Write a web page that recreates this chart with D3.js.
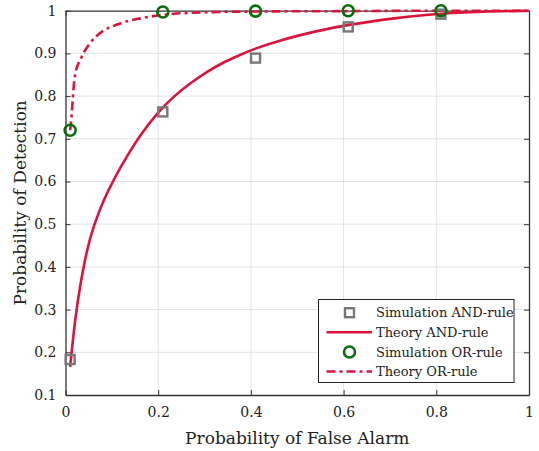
<!DOCTYPE html>
<html><head><meta charset="utf-8">
<script src="https://cdn.jsdelivr.net/npm/d3@7"></script>
<style>
body{margin:0;background:#fff;}
text{font-family:"DejaVu Serif","Liberation Serif",serif;}
</style></head>
<body><svg id="c" width="539" height="451"></svg>
<script>
const xTicks = [0, 0.2, 0.4, 0.6, 0.8, 1];
const yTicks = [0.1, 0.2, 0.3, 0.4, 0.5, 0.6, 0.7, 0.8, 0.9, 1];
const simPfa = [0.01, 0.21, 0.41, 0.61, 0.81];
const simAND = [0.183, 0.763, 0.889, 0.962, 0.992];
const simOR = [0.72, 0.997, 0.999, 1.0, 1.0];
const theoryANDPfa = [0.01, 0.02, 0.031, 0.046, 0.06, 0.082, 0.107, 0.132, 0.161, 0.2, 0.233, 0.269, 0.305, 0.34, 0.376, 0.405, 0.463, 0.54, 0.607, 0.72, 0.80, 0.90, 1.0];
const theoryANDPd  = [0.166, 0.272, 0.354, 0.44, 0.494, 0.557, 0.611, 0.658, 0.709, 0.763, 0.799, 0.830, 0.857, 0.879, 0.896, 0.910, 0.931, 0.952, 0.967, 0.984, 0.993, 0.998, 1.0];
const theoryORPfa = [0.01, 0.012, 0.02, 0.035, 0.053, 0.074, 0.11, 0.161, 0.209, 0.268, 0.4, 0.6, 0.8, 1.0];
const theoryORPd  = [0.72, 0.74, 0.846, 0.892, 0.924, 0.947, 0.967, 0.982, 0.990, 0.995, 0.998, 0.999, 1.0, 1.0];
const legendLabels = ["Simulation AND-rule", "Theory AND-rule", "Simulation OR-rule", "Theory OR-rule"];

const svg = d3.select("#c");
const L = 65.5, R = 529, T = 10.7, B = 395;
const x = d3.scaleLinear().domain([0, 1]).range([L, R]);
const y = d3.scaleLinear().domain([0.1, 1]).range([B, T]);
const red = "#dc143c", gray = "#777", green = "#0a6e0a", axisCol = "#333";

// grid
svg.append("g").selectAll("line").data(xTicks.slice(1, -1)).join("line")
  .attr("x1", d => x(d)).attr("x2", d => x(d)).attr("y1", T).attr("y2", B)
  .attr("stroke", "#e3e3e3").attr("stroke-width", 1);
svg.append("g").selectAll("line").data(yTicks.slice(1, -1)).join("line")
  .attr("y1", d => y(d)).attr("y2", d => y(d)).attr("x1", L).attr("x2", R)
  .attr("stroke", "#e3e3e3").attr("stroke-width", 1);

// axes
const fmt = d => d3.format("")(d);
const ax = svg.append("g").attr("transform", `translate(0,${B})`)
  .call(d3.axisBottom(x).tickValues(xTicks).tickSizeInner(-5).tickSizeOuter(0).tickPadding(12).tickFormat(fmt));
const ay = svg.append("g").attr("transform", `translate(${L},0)`)
  .call(d3.axisLeft(y).tickValues(yTicks).tickSizeInner(-5).tickSizeOuter(0).tickPadding(9).tickFormat(fmt));
const axTop = svg.append("g").attr("transform", `translate(0,${T})`)
  .call(d3.axisTop(x).tickValues(xTicks).tickSizeInner(-5).tickSizeOuter(0).tickFormat(""));
const ayR = svg.append("g").attr("transform", `translate(${R},0)`)
  .call(d3.axisRight(y).tickValues(yTicks).tickSizeInner(-5).tickSizeOuter(0).tickFormat(""));
[ax, ay, axTop, ayR].forEach(g => {
  g.select(".domain").attr("stroke", axisCol).attr("stroke-width", 1.3);
  g.selectAll(".tick line").attr("stroke", axisCol).attr("stroke-width", 1);
  g.selectAll(".tick text").attr("fill", "#222").style("font-size", "14px").style("font-family", '"DejaVu Serif",serif');
});

// curves
const lineAND = d3.line().x(d => x(d[0])).y(d => y(d[1])).curve(d3.curveBasis);
const lineOR = d3.line().x(d => x(d[0])).y(d => y(d[1])).curve(d3.curveMonotoneX);
const andData = theoryANDPfa.map((p, i) => [p, theoryANDPd[i]]);
const orData = theoryORPfa.map((p, i) => [p, theoryORPd[i]]);
svg.append("path").datum(andData).attr("d", lineAND).attr("fill", "none")
  .attr("stroke", red).attr("stroke-width", 2.6);
svg.append("path").datum(orData).attr("d", lineOR).attr("fill", "none")
  .attr("stroke", red).attr("stroke-width", 2.6).attr("stroke-dasharray", "9,4,3,4");

// markers
const sq = 9;
svg.append("g").selectAll("rect").data(simPfa.map((p, i) => [p, simAND[i]])).join("rect")
  .attr("x", d => x(d[0]) - sq / 2).attr("y", d => y(d[1]) - sq / 2)
  .attr("width", sq).attr("height", sq).attr("fill", "none").attr("stroke", gray).attr("stroke-width", 2.4);
svg.append("g").selectAll("circle").data(simPfa.map((p, i) => [p, simOR[i]])).join("circle")
  .attr("cx", d => x(d[0])).attr("cy", d => y(d[1])).attr("r", 5.5)
  .attr("fill", "none").attr("stroke", green).attr("stroke-width", 2.6);

// axis labels
svg.append("text").attr("x", (L + R) / 2).attr("y", 444).attr("text-anchor", "middle")
  .attr("fill", "#222").style("font-size", "17px").text("Probability of False Alarm");
svg.append("text").attr("transform", `translate(26,${(T + B) / 2}) rotate(-90)`).attr("text-anchor", "middle")
  .attr("fill", "#222").style("font-size", "17px").text("Probability of Detection");

// legend
const lg = svg.append("g");
lg.append("rect").attr("x", 318.5).attr("y", 299.5).attr("width", 195.5).attr("height", 83)
  .attr("fill", "#fff").attr("stroke", "#222").attr("stroke-width", 1);
const rows = [312.7, 332.2, 352, 371.5];
const symX = 349.5;
lg.append("rect").attr("x", symX - 4.5).attr("y", rows[0] - 4.5).attr("width", 9).attr("height", 9)
  .attr("fill", "none").attr("stroke", gray).attr("stroke-width", 2.4);
lg.append("line").attr("x1", 326.5).attr("x2", 372).attr("y1", rows[1]).attr("y2", rows[1])
  .attr("stroke", red).attr("stroke-width", 2.6);
lg.append("circle").attr("cx", symX).attr("cy", rows[2]).attr("r", 5.5)
  .attr("fill", "none").attr("stroke", green).attr("stroke-width", 2.6);
lg.append("line").attr("x1", 326.5).attr("x2", 372).attr("y1", rows[3]).attr("y2", rows[3])
  .attr("stroke", red).attr("stroke-width", 2.6).attr("stroke-dasharray", "9,4,3,4");
lg.selectAll("text").data(legendLabels).join("text")
  .attr("x", 376).attr("y", (d, i) => rows[i]).attr("dy", "0.35em")
  .attr("fill", "#222").style("font-size", "13px").text(d => d);
</script></body></html>
